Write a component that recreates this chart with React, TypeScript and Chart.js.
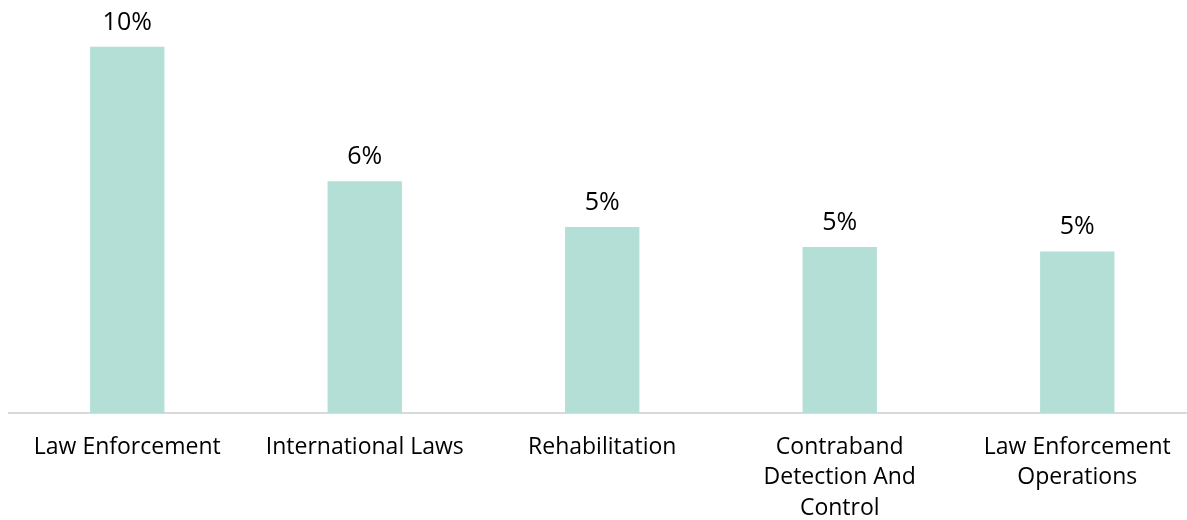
import React, { useEffect, useRef } from "react";
import { Chart, registerables } from "chart.js";

Chart.register(...registerables);

const categories: (string | string[])[] = [
  "Law Enforcement",
  "International Laws",
  "Rehabilitation",
  ["Contraband", "Detection And", "Control"],
  ["Law Enforcement", "Operations"],
];
const shares: number[] = [10.2, 6.45, 5.18, 4.62, 4.5];

const BAR_COLOR = "#b4dfd6";
const AXIS_COLOR = "#d9d9d9";
const TEXT_COLOR = "#000000";
const FONT_FAMILY = "'Open Sans', sans-serif";

// Writes the rounded percentage above each bar
const valueLabels = {
  id: "valueLabels",
  afterDatasetsDraw(chart: any) {
    const { ctx } = chart;
    const meta = chart.getDatasetMeta(0);
    ctx.save();
    ctx.font = `25px ${FONT_FAMILY}`;
    ctx.fillStyle = TEXT_COLOR;
    ctx.textAlign = "center";
    ctx.textBaseline = "alphabetic";
    meta.data.forEach((bar: any, i: number) => {
      ctx.fillText(`${Math.round(shares[i])}%`, bar.x, bar.y - 17);
    });
    ctx.restore();
  },
};

export default function App() {
  const canvasRef = useRef<HTMLCanvasElement | null>(null);

  useEffect(() => {
    if (!canvasRef.current) return;
    const chart = new Chart(canvasRef.current, {
      type: "bar",
      data: {
        labels: categories,
        datasets: [
          {
            data: shares,
            backgroundColor: BAR_COLOR,
            borderWidth: 0,
            barPercentage: 0.626,
            categoryPercentage: 0.5,
          },
        ],
      },
      options: {
        responsive: false,
        animation: false,
        layout: { padding: { left: 8.5, right: 4, top: 0, bottom: 0 } },
        plugins: {
          legend: { display: false },
          tooltip: { enabled: false },
        },
        scales: {
          x: {
            grid: { display: false },
            border: { display: true, color: AXIS_COLOR, width: 2 },
            ticks: {
              color: TEXT_COLOR,
              padding: 11,
              maxRotation: 0,
              autoSkip: false,
              font: { family: FONT_FAMILY, size: 23, lineHeight: 1.33 },
            },
            afterFit: (scale: any) => {
              scale.height = 107;
            },
          },
          y: {
            display: false,
            min: 0,
            max: 11.5,
          },
        },
      },
      plugins: [valueLabels],
    });
    return () => chart.destroy();
  }, []);

  return (
    <div
      style={{
        position: "absolute",
        left: 0,
        top: 0,
        width: 1187,
        height: 520,
        overflow: "hidden",
        background: "#ffffff",
      }}
    >
      <canvas ref={canvasRef} width={1200} height={520} />
    </div>
  );
}
